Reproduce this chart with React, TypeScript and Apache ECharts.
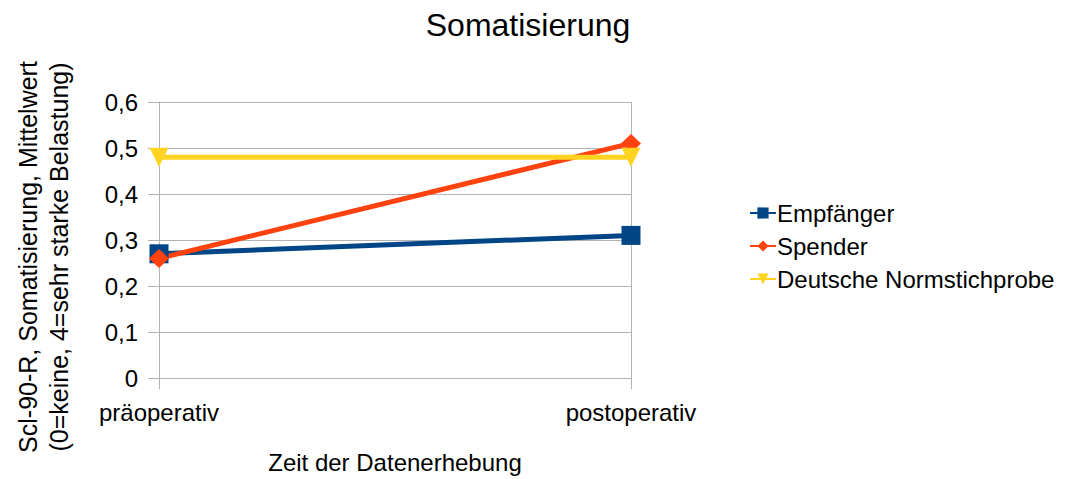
import React, { useEffect, useRef } from "react";
import * as echarts from "echarts";

const categories = ["präoperativ", "postoperativ"];
const empfaenger = [0.27, 0.31];
const spender = [0.26, 0.51];
const normstichprobe = [0.48, 0.48];
const yTicks = [0, 0.1, 0.2, 0.3, 0.4, 0.5, 0.6];

const FONT = "'Liberation Sans', Arial, sans-serif";
const GRID = "#b3b3b3";

export default function App() {
  const ref = useRef<HTMLDivElement>(null);
  useEffect(() => {
    if (!ref.current) return;
    const chart = echarts.init(ref.current, undefined, { renderer: "svg" });
    chart.setOption({
      animation: false,
      backgroundColor: "#ffffff",
      textStyle: { fontFamily: FONT },
      title: {
        text: "Somatisierung",
        left: 523,
        top: 4,
        textAlign: "center",
        textStyle: { fontFamily: FONT, fontSize: 32, fontWeight: "normal", color: "#000" },
      },
      grid: { left: 159, right: 440, top: 102, bottom: 97, containLabel: false },
      legend: {
        orient: "vertical",
        left: 744,
        top: 196,
        itemGap: 9,
        itemWidth: 26,
        itemHeight: 14,
        textStyle: { fontFamily: FONT, fontSize: 24, color: "#000", padding: [0, 0, 0, -4] },
        data: ["Empfänger", "Spender", "Deutsche Normstichprobe"],
      },
      xAxis: {
        type: "category",
        data: categories,
        boundaryGap: false,
        axisLine: { show: true, lineStyle: { color: GRID, width: 1 } },
        axisTick: { show: true, length: 11, lineStyle: { color: GRID } },
        splitLine: { show: true, lineStyle: { color: GRID, width: 1 } },
        axisLabel: { fontFamily: FONT, fontSize: 24, color: "#000", margin: 22 },
        name: "Zeit der Datenerhebung",
        nameLocation: "middle",
        nameGap: 72,
        nameTextStyle: { fontFamily: FONT, fontSize: 24, color: "#000" },
      },
      yAxis: {
        type: "value",
        min: 0,
        max: 0.6,
        interval: 0.1,
        axisLine: { show: true, lineStyle: { color: GRID, width: 1 } },
        axisTick: { show: true, length: 11, lineStyle: { color: GRID } },
        splitLine: { show: true, lineStyle: { color: GRID, width: 1 } },
        axisLabel: {
          fontFamily: FONT,
          fontSize: 24,
          color: "#000",
          margin: 21,
          formatter: (v: number) => {
            const t = yTicks.find((x) => Math.abs(x - v) < 1e-9);
            const val = t !== undefined ? t : v;
            return val === 0 ? "0" : val.toFixed(1).replace(".", ",");
          },
        },
      },
      graphic: [
        {
          type: "text",
          x: 43,
          y: 257,
          rotation: Math.PI / 2,
          style: {
            text: "Scl-90-R, Somatisierung, Mittelwert\n(0=keine, 4=sehr starke Belastung)",
            fontFamily: FONT,
            fontSize: 25,
            lineHeight: 31,
            fill: "#000",
            textAlign: "center",
            textVerticalAlign: "middle",
          },
        },
      ],
      series: [
        {
          name: "Empfänger",
          type: "line",
          data: empfaenger,
          symbol: "rect",
          symbolSize: 19,
          lineStyle: { width: 5, color: "#004586" },
          itemStyle: { color: "#004586" },
        },
        {
          name: "Spender",
          type: "line",
          data: spender,
          symbol: "diamond",
          symbolSize: [20, 19],
          lineStyle: { width: 5, color: "#ff420e" },
          itemStyle: { color: "#ff420e" },
        },
        {
          name: "Deutsche Normstichprobe",
          type: "line",
          data: normstichprobe,
          symbol: "triangle",
          symbolRotate: 180,
          symbolSize: 19,
          lineStyle: { width: 5, color: "#ffd320" },
          itemStyle: { color: "#ffd320" },
        },
      ],
    });
    return () => chart.dispose();
  }, []);
  return <div ref={ref} style={{ width: 1071, height: 479, position: "absolute", left: 0, top: 0 }} />;
}
